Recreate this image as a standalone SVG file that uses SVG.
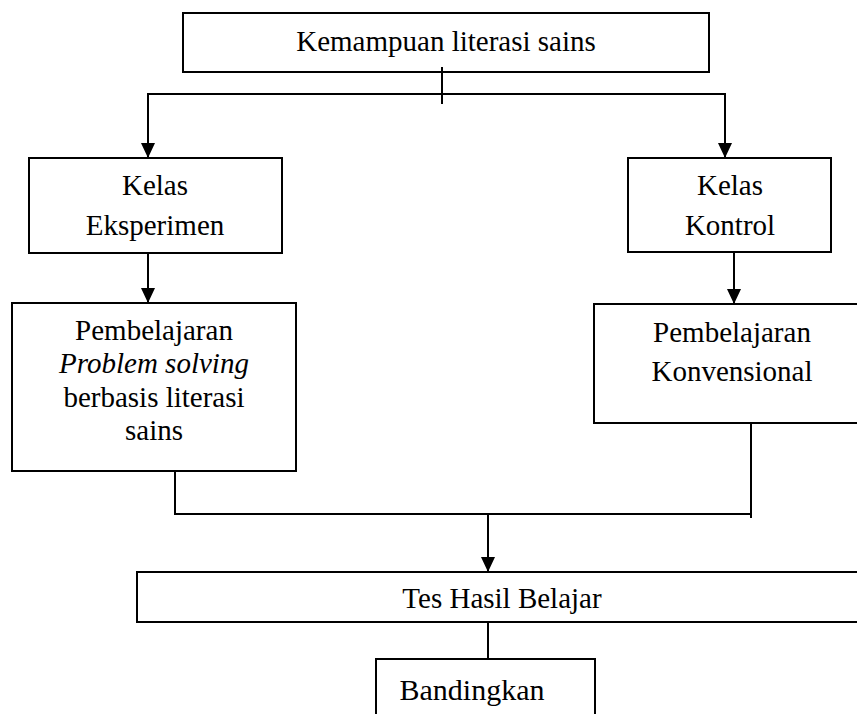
<svg xmlns="http://www.w3.org/2000/svg" width="857" height="714" viewBox="0 0 857 714">
<style>
rect{fill:#fff;stroke:#000;stroke-width:2}
text{font-family:"Liberation Serif","Times New Roman",serif;font-size:29px;fill:#000;text-anchor:middle}
.c line{stroke:#000;stroke-width:2}
</style>
<defs>
<marker id="ah" markerWidth="15" markerHeight="14" refX="15" refY="7" orient="auto" markerUnits="userSpaceOnUse" viewBox="0 0 15 14">
<path d="M0,0 L15,7 L0,14 Z" fill="#000"/>
</marker>
</defs>
<rect x="0" y="0" width="857" height="714" style="stroke:none"/>
<g id="n-literasi"><rect x="183" y="13" width="526" height="59"/><text x="446" y="51">Kemampuan literasi sains</text></g>
<g id="n-eksperimen"><rect x="29" y="158" width="253" height="95"/><text x="155" y="195">Kelas</text><text x="155" y="235">Eksperimen</text></g>
<g id="n-kontrol"><rect x="628" y="158" width="203" height="94"/><text x="730" y="195">Kelas</text><text x="730" y="235">Kontrol</text></g>
<g id="n-ps"><rect x="12" y="303" width="284" height="168"/><text x="154" y="340">Pembelajaran</text><text x="154" y="373" font-style="italic">Problem solving</text><text x="154" y="407">berbasis literasi</text><text x="154" y="440">sains</text></g>
<g id="n-konv"><rect x="594" y="304" width="280" height="119"/><text x="732" y="342">Pembelajaran</text><text x="732" y="381">Konvensional</text></g>
<g id="n-tes"><rect x="137" y="572" width="730" height="50"/><text x="502" y="608">Tes Hasil Belajar</text></g>
<g id="n-banding"><rect x="376" y="659" width="219" height="70"/><text x="472" y="700" style="font-size:30px">Bandingkan</text></g>
<g class="c" id="connectors">
<line x1="442" y1="67" x2="442" y2="104"/>
<line x1="148" y1="94" x2="725" y2="94"/>
<line x1="148" y1="93" x2="148" y2="158" marker-end="url(#ah)"/>
<line x1="725" y1="93" x2="725" y2="158" marker-end="url(#ah)"/>
<line x1="148" y1="253" x2="148" y2="303" marker-end="url(#ah)"/>
<line x1="734" y1="252" x2="734" y2="304" marker-end="url(#ah)"/>
<line x1="175" y1="471" x2="175" y2="515"/>
<line x1="751" y1="423" x2="751" y2="518"/>
<line x1="174" y1="514" x2="752" y2="514"/>
<line x1="488" y1="514" x2="488" y2="572" marker-end="url(#ah)"/>
<line x1="488" y1="622" x2="488" y2="659"/>
</g>
</svg>
